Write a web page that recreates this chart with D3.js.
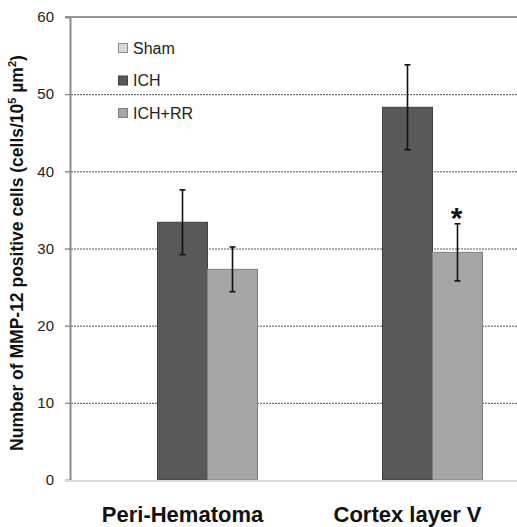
<!DOCTYPE html>
<html lang="en">
<head>
  <meta charset="UTF-8">
  <title>MMP-12 positive cells</title>
  <script src="https://d3js.org/d3.v7.min.js"></script>
  <style>
    body { margin: 0; background: #fff; }
    text { font-family: Arial, "Liberation Sans", sans-serif; }
  </style>
</head>
<body>
  <svg id="chart" width="517" height="527"></svg>

  <script>
    // Data
    const regions = ["Peri-Hematoma", "Cortex layer V"];
    const groups = ["Sham", "ICH", "ICH+RR"];
    const means = [
      [0, 33.4, 27.3],
      [0, 48.3, 29.5]
    ];
    const errors = [
      [0, 4.2, 2.9],
      [0, 5.5, 3.7]
    ];
    const yTicks = [0, 10, 20, 30, 40, 50, 60];
    const starred = [[1, 2]]; // [region, group] with asterisk

    const fills = { "Sham": "#d9d9d9", "ICH": "#595959", "ICH+RR": "#a6a6a6" };
    const strokes = { "Sham": "#8c8c8c", "ICH": "#3f3f3f", "ICH+RR": "#7f7f7f" };

    const svg = d3.select("#chart");
    const plotLeft = 70, plotRight = 520, plotTop = 17, plotBottom = 480;

    const x0 = d3.scaleBand().domain(regions).range([plotLeft, plotRight]).paddingInner(1 / 3).paddingOuter(1 / 6);
    const x1 = d3.scaleBand().domain(groups).range([0, x0.bandwidth()]);
    const y = d3.scaleLinear().domain([0, 60]).range([plotBottom, plotTop]);

    // Gridlines
    svg.append("g")
      .selectAll("line")
      .data(yTicks.filter(t => t > 0 && t < 60))
      .enter()
      .append("line")
      .attr("x1", plotLeft - 5)
      .attr("x2", plotRight)
      .attr("y1", d => y(d) + 0.5)
      .attr("y2", d => y(d) + 0.5)
      .attr("stroke", "#555")
      .attr("stroke-width", 1)
      .attr("stroke-dasharray", "2,1");

    // top line at 60
    svg.append("line")
      .attr("x1", plotLeft - 5).attr("x2", plotRight)
      .attr("y1", y(60)).attr("y2", y(60))
      .attr("stroke", "#999").attr("stroke-width", 2);

    // Y axis with ticks on the left
    const yAxis = svg.append("g")
      .attr("transform", `translate(${plotLeft},0)`)
      .call(d3.axisLeft(y).tickValues(yTicks).tickSize(5).tickPadding(11));
    yAxis.select(".domain").attr("stroke", "#8c8c8c").attr("stroke-width", 2);
    yAxis.selectAll(".tick line").attr("stroke", "#8c8c8c");
    yAxis.selectAll(".tick text")
      .attr("font-size", 15)
      .attr("fill", "#222")
      .style("font-family", "Arial, 'Liberation Sans', sans-serif");

    // Bars
    const groupsG = svg.selectAll(".region")
      .data(regions)
      .enter()
      .append("g")
      .attr("class", "region")
      .attr("transform", d => `translate(${x0(d)},0)`);

    groupsG.each(function(region, ri) {
      const g = d3.select(this);
      groups.forEach((grp, gi) => {
        const v = means[ri][gi];
        if (v <= 0) return;
        g.append("rect")
          .attr("x", x1(grp))
          .attr("y", y(v))
          .attr("width", x1.bandwidth())
          .attr("height", y(0) - y(v))
          .attr("fill", fills[grp])
          .attr("stroke", strokes[grp])
          .attr("stroke-width", 1);
      });
      // error bars
      groups.forEach((grp, gi) => {
        const v = means[ri][gi], e = errors[ri][gi];
        if (v <= 0) return;
        const cx = x1(grp) + x1.bandwidth() / 2;
        g.append("line")
          .attr("x1", cx).attr("x2", cx)
          .attr("y1", y(v + e)).attr("y2", y(v - e))
          .attr("stroke", "#111").attr("stroke-width", 1.6);
        [v + e, v - e].forEach(val => {
          g.append("line")
            .attr("x1", cx - 3).attr("x2", cx + 3)
            .attr("y1", y(val)).attr("y2", y(val))
            .attr("stroke", "#111").attr("stroke-width", 1.6);
        });
      });
    });

    // Asterisk
    starred.forEach(([ri, gi]) => {
      const cx = x0(regions[ri]) + x1(groups[gi]) + x1.bandwidth() / 2;
      svg.append("text")
        .attr("x", cx - 1)
        .attr("y", y(means[ri][gi] + errors[ri][gi]) + 4)
        .attr("text-anchor", "middle")
        .attr("font-size", 30)
        .attr("font-weight", "bold")
        .attr("fill", "#111")
        .text("*");
    });

    // X baseline
    svg.append("line")
      .attr("x1", plotLeft - 5).attr("x2", plotRight)
      .attr("y1", y(0) + 1).attr("y2", y(0) + 1)
      .attr("stroke", "#d9d9d9").attr("stroke-width", 2);

    // Category labels
    svg.selectAll(".cat")
      .data(regions)
      .enter()
      .append("text")
      .attr("class", "cat")
      .attr("x", d => x0(d) + x0.bandwidth() / 2)
      .attr("y", 522)
      .attr("text-anchor", "middle")
      .attr("font-size", 22)
      .attr("font-weight", "bold")
      .attr("fill", "#111")
      .text(d => d);

    // Y title
    const title = svg.append("text")
      .attr("transform", "translate(23,253) rotate(-90)")
      .attr("text-anchor", "middle")
      .attr("font-size", 17.5)
      .attr("font-weight", "bold")
      .attr("fill", "#111");
    title.append("tspan").text("Number of MMP-12 positive cells (cells/10");
    title.append("tspan").attr("font-size", 11).attr("dy", -7).text("5");
    title.append("tspan").attr("dy", 7).text(" \u00b5m");
    title.append("tspan").attr("font-size", 11).attr("dy", -7).text("2");
    title.append("tspan").attr("dy", 7).text(")");

    // Legend
    const legend = svg.append("g").attr("transform", "translate(118,43)");
    groups.forEach((grp, i) => {
      const row = legend.append("g").attr("transform", `translate(0,${i * 32.5})`);
      row.append("rect")
        .attr("x", 0.5).attr("y", 0.5)
        .attr("width", 9).attr("height", 9)
        .attr("fill", fills[grp])
        .attr("stroke", strokes[grp]);
      row.append("text")
        .attr("x", 15).attr("y", 10.5)
        .attr("font-size", 16)
        .attr("fill", "#222")
        .text(grp);
    });
  </script>
</body>
</html>
